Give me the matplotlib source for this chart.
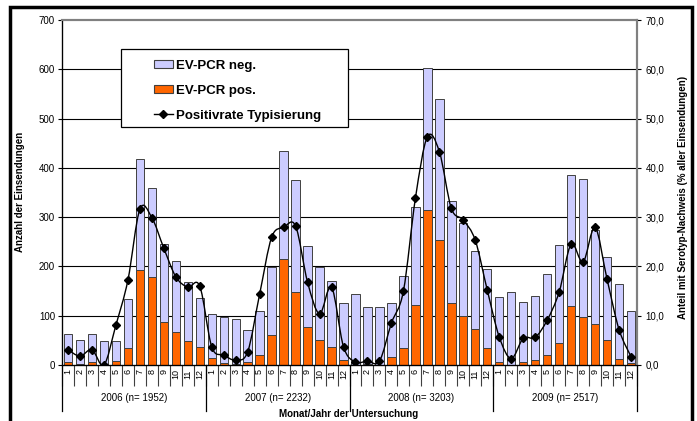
import numpy as np
import matplotlib
matplotlib.use("Agg")
import matplotlib.pyplot as plt
from matplotlib.path import Path
from matplotlib.patches import PathPatch, Patch, Rectangle
from matplotlib.lines import Line2D

plt.rcParams['font.family'] = ['Liberation Sans', 'DejaVu Sans']

years = ["2006 (n= 1952)", "2007 (n= 2232)", "2008 (n= 3203)", "2009 (n= 2517)"]
months = [str(m) for m in range(1, 13)] * 4

# total submissions per month
total = [63, 51, 63, 48, 48, 134, 418, 359, 245, 212, 169, 136,
         104, 98, 93, 72, 109, 199, 434, 375, 242, 199, 171, 125,
         144, 118, 117, 126, 180, 320, 602, 540, 333, 288, 232, 195,
         138, 148, 127, 140, 185, 244, 386, 378, 273, 219, 165, 110]
# EV-PCR positive
pos = [6, 2, 6, 0, 8, 34, 193, 178, 87, 66, 48, 37,
       14, 5, 2, 7, 20, 61, 216, 149, 78, 51, 37, 10,
       1, 3, 1, 16, 35, 122, 314, 253, 125, 99, 73, 35,
       7, 1, 6, 10, 20, 44, 120, 97, 83, 51, 12, 5]
# Positivrate Typisierung (%)
rate = [3.1, 1.8, 3.1, 0.0, 8.1, 17.2, 31.6, 29.9, 23.7, 17.9, 15.8, 16.0,
        3.7, 2.0, 1.0, 2.7, 14.4, 25.9, 27.9, 28.2, 16.8, 10.4, 15.8, 3.7,
        0.6, 0.8, 0.8, 8.5, 15.0, 33.8, 46.3, 43.3, 31.8, 29.4, 25.3, 15.2,
        5.7, 1.3, 5.4, 5.6, 9.1, 14.8, 24.5, 20.9, 27.9, 17.4, 7.2, 1.7]

neg = np.array(total) - np.array(pos)
x = np.arange(len(total))

NEG_C = "#CCCCFF"
POS_C = "#FF6600"
EDGE = "#404040"


def smooth_path(xs, ys):
    # Catmull-Rom style bezier through the points (Excel "smoothed line")
    n = len(xs)
    verts = [(xs[0], ys[0])]
    codes = [Path.MOVETO]
    for i in range(n - 1):
        a = i - 1 if i > 0 else i
        d = i + 2 if i + 2 < n else i + 1
        c1 = (xs[i] + (xs[i + 1] - xs[a]) / 6, ys[i] + (ys[i + 1] - ys[a]) / 6)
        c2 = (xs[i + 1] - (xs[d] - xs[i]) / 6, ys[i + 1] - (ys[d] - ys[i]) / 6)
        verts += [c1, c2, (xs[i + 1], ys[i + 1])]
        codes += [Path.CURVE4] * 3
    return Path(verts, codes)


fig = plt.figure(figsize=(6.97, 4.21), dpi=100)
ax = fig.add_axes([62 / 697, 56 / 421, 575 / 697, 345 / 421])

for yv in range(100, 700, 100):
    ax.axhline(yv, color="black", lw=0.8, zorder=0)

ax.bar(x, pos, width=0.7, color=POS_C, edgecolor=EDGE, lw=0.7, zorder=2)
ax.bar(x, neg, bottom=pos, width=0.7, color=NEG_C, edgecolor=EDGE, lw=0.7, zorder=2)

ax.set_xlim(-0.5, 47.5)
ax.set_ylim(0, 700)
ax.set_yticks(range(0, 701, 100))
ax.tick_params(axis="y", labelsize=7, length=3, width=0.8, pad=2)

ax.set_xticks(x)
ax.set_xticklabels(months, rotation=90, fontsize=6.5)
ax.tick_params(axis="x", which="major", length=0, pad=3)
ax.set_xticks(np.arange(-0.5, 48, 1), minor=True)
ax.tick_params(axis="x", which="minor", length=15, width=0.8, color=EDGE)

for s in ["top", "right"]:
    ax.spines[s].set_color("#808080")
    ax.spines[s].set_linewidth(1.5)
ax.spines["left"].set_linewidth(0.9)
ax.spines["bottom"].set_linewidth(0.9)

trans = ax.get_xaxis_transform()
for b in [-0.5, 11.5, 23.5, 35.5, 47.5]:
    ax.add_line(Line2D([b, b], [0, -0.133], transform=trans, color="black",
                       lw=0.9, clip_on=False))
for k, lab in enumerate(years):
    ax.text(k * 12 + 5.5, -0.096, lab, transform=trans, ha="center", va="center",
            fontsize=7)

ax2 = ax.twinx()
ax2.set_ylim(0, 70)
ax2.set_yticks(range(0, 71, 10))
ax2.set_yticklabels([f"{v:.1f}".replace(".", ",") for v in range(0, 71, 10)])
ax2.tick_params(axis="y", labelsize=7, length=3, width=0.8, pad=3)
for s in ["top", "right"]:
    ax2.spines[s].set_color("#808080")
    ax2.spines[s].set_linewidth(1.5)
ax2.add_patch(PathPatch(smooth_path(x.astype(float), rate), fill=False,
                        edgecolor="black", lw=1.0, zorder=3))
ax2.plot(x, rate, ls="none", marker="D", color="black", markersize=4, zorder=4)

fig.text(20 / 697, 0.544, "Anzahl der Einsendungen", rotation=90, ha="center",
         va="center", fontsize=7, fontweight="bold")
fig.text(683 / 697, 0.53, "Anteil mit Serotyp-Nachweis (% aller Einsendungen)",
         rotation=90, ha="center", va="center", fontsize=7, fontweight="bold")
fig.text(349 / 697, 7 / 421, "Monat/Jahr der Untersuchung", ha="center",
         va="center", fontsize=7, fontweight="bold")

# legend box
fig.add_artist(Rectangle((121 / 697, 1 - 127 / 421), 227 / 697, 78 / 421,
                         transform=fig.transFigure, facecolor="white",
                         edgecolor="black", lw=0.9, zorder=5))
handles = [Patch(facecolor=NEG_C, edgecolor=EDGE, lw=0.8),
           Patch(facecolor=POS_C, edgecolor=EDGE, lw=0.8),
           Line2D([], [], color="black", marker="D", markersize=4, lw=1.0)]
labels = ["EV-PCR neg.", "EV-PCR pos.", "Positivrate Typisierung"]
leg = fig.legend(handles, labels, loc="upper left",
                 bbox_to_anchor=(147 / 697, 1 - 53 / 421),
                 bbox_transform=fig.transFigure, frameon=False, borderpad=0,
                 labelspacing=0.98, handlelength=1.5, handleheight=0.65,
                 handletextpad=0.2, prop={"size": 9.5, "weight": "bold"})
leg.set_zorder(6)

# outer frame
fig.add_artist(Rectangle((10 / 697, -0.05), 682 / 697, 1.05 - 7 / 421,
                         transform=fig.transFigure, facecolor="none",
                         edgecolor="black", lw=2.5, zorder=7))

fig.savefig("out.png", dpi=100)
